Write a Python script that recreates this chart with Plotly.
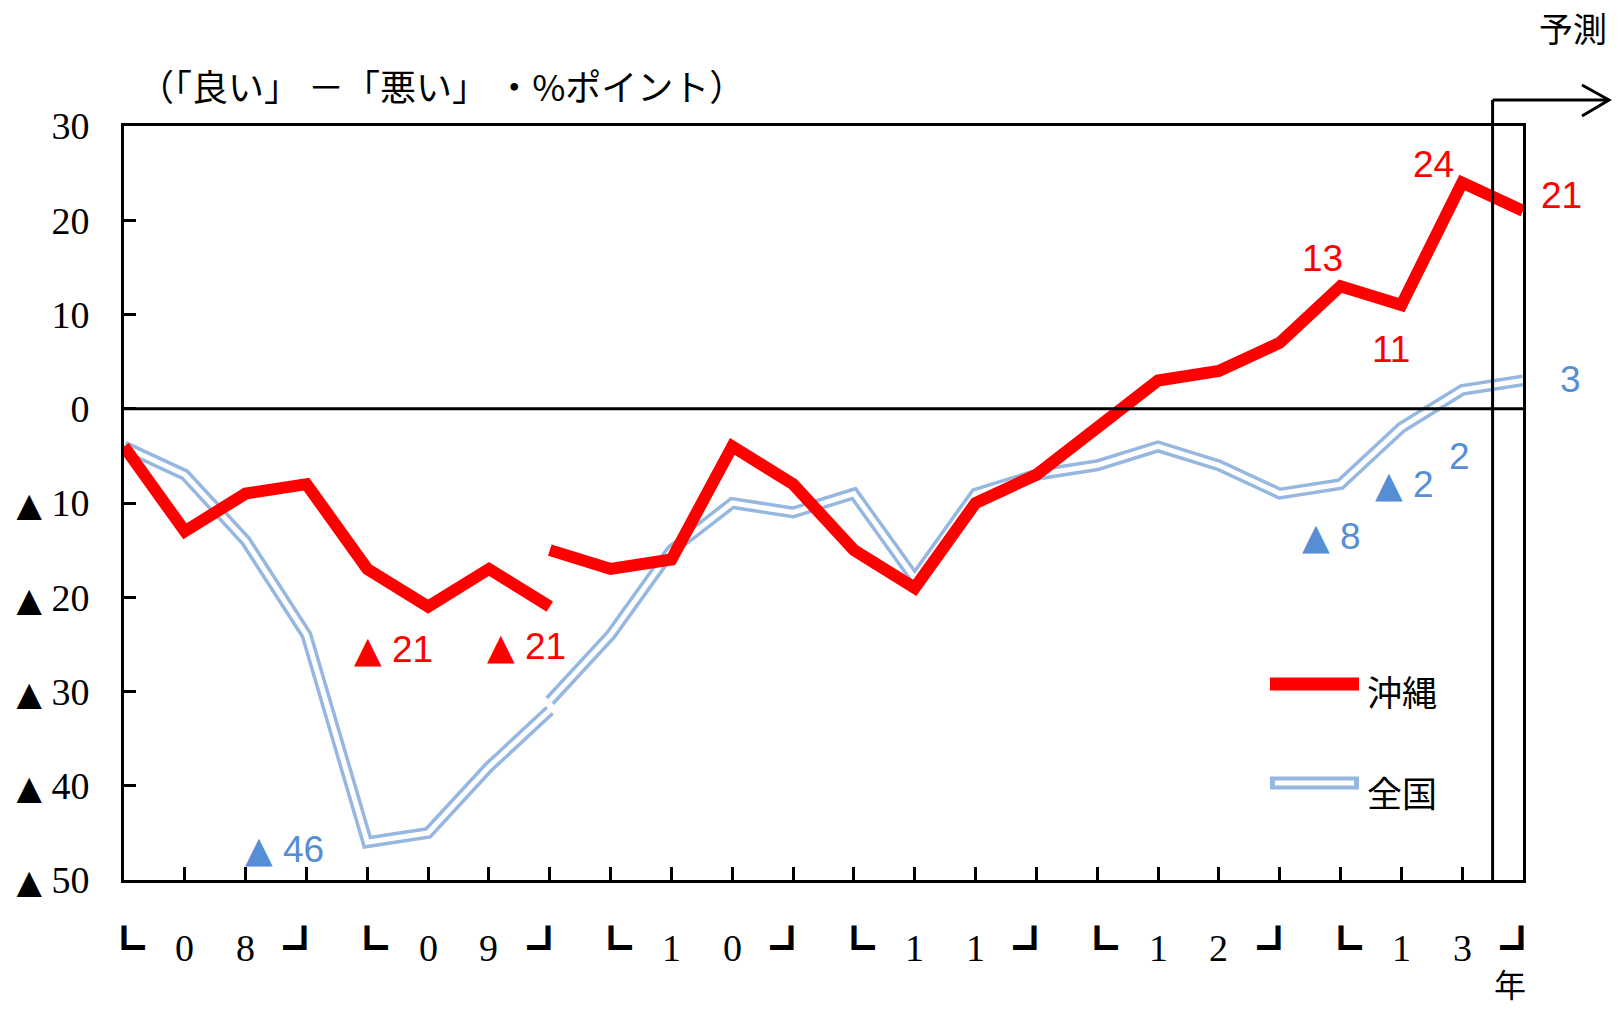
import plotly.graph_objects as go

# ---------------- data ----------------
years = ["08", "09", "10", "11", "12", "13"]
n_quarters = 24
# 沖縄 (Okinawa): series break at 2009Q4 (index 7)
okinawa_a_x = [0, 1, 2, 3, 4, 5, 6, 7]
okinawa_a = [-4, -13, -9, -8, -17, -21, -17, -21]
okinawa_b_x = list(range(7, 24))
okinawa_b = [-15, -17, -16, -4, -8, -15, -19, -10, -7, -2, 3, 4, 7, 13, 11, 24, 21]
# 全国 (nationwide)
zenkoku_a_x = [0, 1, 2, 3, 4, 5, 6, 7]
zenkoku_a = [-4, -7, -14, -24, -46, -45, -38, -32]
zenkoku_b_x = list(range(7, 24))
zenkoku_b = [-31, -24, -15, -10, -11, -9, -18, -9, -7, -6, -4, -6, -9, -8, -2, 2, 3]

y_ticks = [30, 20, 10, 0, -10, -20, -30, -40, -50]

RED = "#FF0000"
BLUE_LINE = "#95B7E0"
BLUE_TEXT = "#558ED5"

W, H = 1619, 1011
L, R, T, B = 124, 1523, 126, 880


def px(x):
    return (x - L) / (R - L)


def py(y):
    return (B - y) / (B - T)


def tri(v, size):
    if v < 0:
        return (f"<span style='font-family:DejaVu Sans;font-size:{size}px'>▲</span> {abs(v)}")
    return f"{v}"


fig = go.Figure()

# 全国: double line (outer blue, inner white)
for xs, ys in [(zenkoku_a_x, zenkoku_a), (zenkoku_b_x, zenkoku_b)]:
    fig.add_trace(go.Scatter(x=xs, y=ys, mode="lines", line=dict(color=BLUE_LINE, width=12),
                             showlegend=False, hoverinfo="skip"))
    fig.add_trace(go.Scatter(x=xs, y=ys, mode="lines", line=dict(color="white", width=5),
                             showlegend=False, hoverinfo="skip"))
# 沖縄
for xs, ys in [(okinawa_a_x, okinawa_a), (okinawa_b_x, okinawa_b)]:
    fig.add_trace(go.Scatter(x=xs, y=ys, mode="lines", line=dict(color=RED, width=12),
                             showlegend=False, hoverinfo="skip"))

annotations = []
LABEL_FONT = "Liberation Sans, Arial, sans-serif"

# data labels: (x list, y list, index, xshift, yshift)
red_labels = [
    (okinawa_a_x, okinawa_a, 5, -35, -43),
    (okinawa_a_x, okinawa_a, 7, -23, -40),
    (okinawa_b_x, okinawa_b, 20, -18, 28),
    (okinawa_b_x, okinawa_b, 21, -10, -44),
    (okinawa_b_x, okinawa_b, 22, -29, 18),
    (okinawa_b_x, okinawa_b, 23, 38, 15),
]
blue_labels = [
    (zenkoku_a_x, zenkoku_a, 4, -83, -7),
    (zenkoku_b_x, zenkoku_b, 20, -9, -52),
    (zenkoku_b_x, zenkoku_b, 21, 3, -57),
    (zenkoku_b_x, zenkoku_b, 22, -3, -67),
    (zenkoku_b_x, zenkoku_b, 23, 47, 1),
]
for labels, col in [(red_labels, RED), (blue_labels, BLUE_TEXT)]:
    for xs, ys, idx, dx, dy in labels:
        v = ys[xs.index(idx)]
        annotations.append(dict(x=idx, y=v, xref="x", yref="y", text=tri(v, 36), showarrow=False,
                                xshift=dx, yshift=dy, xanchor="center", yanchor="middle",
                                font=dict(family=LABEL_FONT, size=37, color=col)))

# x-axis year labels with brackets
SERIF = "Liberation Serif, Times New Roman, serif"
CJK = "Noto Sans CJK JP"
for i, yr in enumerate(years):
    q0 = i * 4
    annotations.append(dict(x=q0 + 1, y=py(948), xref="x", yref="paper", text=yr[0], showarrow=False,
                            xanchor="center", yanchor="middle", font=dict(family=SERIF, size=38, color="black")))
    annotations.append(dict(x=q0 + 2, y=py(948), xref="x", yref="paper", text=yr[1], showarrow=False,
                            xanchor="center", yanchor="middle", font=dict(family=SERIF, size=38, color="black")))
    annotations.append(dict(x=q0, y=py(944), xref="x", yref="paper", text="┗", showarrow=False,
                            xshift=0, xanchor="center", yanchor="middle", font=dict(family=CJK, size=42, color="black")))
    annotations.append(dict(x=q0 + 3, y=py(944), xref="x", yref="paper", text="┛", showarrow=False,
                            xshift=-2, xanchor="center", yanchor="middle", font=dict(family=CJK, size=42, color="black")))

annotations += [
    dict(x=px(136), y=py(85), xref="paper", yref="paper", text="（「良い」 －「悪い」 ・%ポイント）",
         showarrow=False, xanchor="left", yanchor="middle", font=dict(family=CJK, size=36, color="black")),
    dict(x=px(1609), y=py(28), xref="paper", yref="paper", text="予測",
         showarrow=False, xanchor="right", yanchor="middle", font=dict(family=CJK, size=34, color="black")),
    dict(x=px(1510), y=py(1008), xref="paper", yref="paper", text="年",
         showarrow=False, xanchor="center", yanchor="bottom", font=dict(family=CJK, size=32, color="black")),
    dict(x=px(1365), y=py(690), xref="paper", yref="paper", text="沖縄",
         showarrow=False, xanchor="left", yanchor="middle", font=dict(family=CJK, size=35, color="black")),
    dict(x=px(1365), y=py(791), xref="paper", yref="paper", text="全国",
         showarrow=False, xanchor="left", yanchor="middle", font=dict(family=CJK, size=35, color="black")),
]

x_fc = px(124 + 22.5 * (R - L) / 23)
shapes = [
    # zero line
    dict(type="line", xref="paper", yref="y", x0=0, x1=1, y0=0, y1=0, line=dict(color="black", width=3)),
    # forecast vertical line
    dict(type="line", xref="paper", yref="paper", x0=x_fc, x1=x_fc, y0=0, y1=py(100),
         line=dict(color="black", width=3)),
    # forecast arrow
    dict(type="line", xref="paper", yref="paper", x0=x_fc, x1=px(1609), y0=py(100), y1=py(100),
         line=dict(color="black", width=3)),
    dict(type="path", xref="paper", yref="paper",
         path=f"M {px(1582)} {py(85)} L {px(1609)} {py(100)} L {px(1582)} {py(116)}",
         line=dict(color="black", width=3)),
    # legend samples
    dict(type="line", xref="paper", yref="paper", x0=px(1270), x1=px(1359), y0=py(684), y1=py(684),
         line=dict(color=RED, width=13)),
    dict(type="line", xref="paper", yref="paper", x0=px(1270), x1=px(1359), y0=py(783), y1=py(783),
         line=dict(color=BLUE_LINE, width=13)),
    dict(type="line", xref="paper", yref="paper", x0=px(1275), x1=px(1354), y0=py(783), y1=py(783),
         line=dict(color="white", width=5)),
]

fig.update_layout(
    width=W, height=H,
    margin=dict(l=L, r=W - R, t=T, b=H - B, pad=0, autoexpand=False),
    paper_bgcolor="white", plot_bgcolor="white",
    showlegend=False,
    annotations=annotations,
    shapes=shapes,
    xaxis=dict(range=[0, 23], tickvals=list(range(n_quarters)), showticklabels=False,
               ticks="inside", ticklen=13, tickwidth=3, tickcolor="black",
               showline=True, linecolor="black", linewidth=3, mirror=True, automargin=False,
               showgrid=False, zeroline=False, fixedrange=True),
    yaxis=dict(range=[-50, 30], tickvals=y_ticks, ticktext=[tri(v, 33) for v in y_ticks],
               ticks="inside", ticklen=12, tickwidth=3, tickcolor="black",
               tickfont=dict(family=SERIF, size=38, color="black"),
               ticklabelstandoff=24, automargin=False,
               showline=True, linecolor="black", linewidth=3, mirror=True,
               showgrid=False, zeroline=False, fixedrange=True),
)

fig.write_html("out.html", config={"displayModeBar": False},
               post_script="document.body.style.margin='0';")
